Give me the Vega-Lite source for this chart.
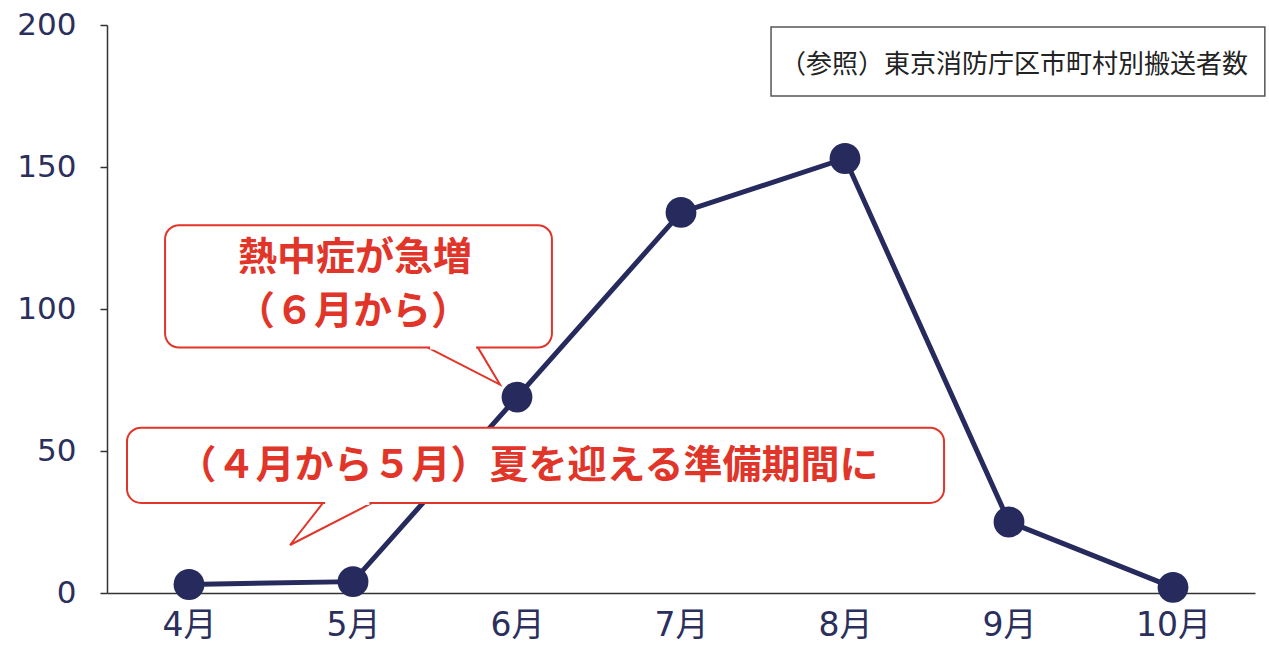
{
  "$schema": "https://vega.github.io/schema/vega-lite/v6.json",
  "width": 1148,
  "height": 568,
  "autosize": {"type": "none"},
  "padding": {"left": 107, "top": 25, "right": 14, "bottom": 53},
  "background": "#ffffff",
  "config": {"view": {"stroke": null}},
  "datasets": {
    "series": [
      {"month": 4, "value": 3},
      {"month": 5, "value": 4},
      {"month": 6, "value": 69},
      {"month": 7, "value": 134},
      {"month": 8, "value": 153},
      {"month": 9, "value": 25},
      {"month": 10, "value": 2}
    ],
    "boxes": [
      {"x1": 3.854, "x2": 6.213, "y1": 86.4, "y2": 129.5},
      {"x1": 3.622, "x2": 8.604, "y1": 31.7, "y2": 58.2}
    ],
    "pointers": [
      {"g": "a", "o": 1, "x": 5.457, "y": 86.4},
      {"g": "a", "o": 2, "x": 5.896, "y": 73.4},
      {"g": "a", "o": 3, "x": 5.762, "y": 86.4},
      {"g": "b", "o": 1, "x": 4.817, "y": 31.7},
      {"g": "b", "o": 2, "x": 4.616, "y": 16.9},
      {"g": "b", "o": 3, "x": 5.116, "y": 31.7}
    ],
    "gaps": [
      {"x1": 5.47, "x2": 5.75, "y": 86.4},
      {"x1": 4.83, "x2": 5.10, "y": 31.7}
    ],
    "notes": [
      {"x": 5.012, "y": 117.8, "text": "熱中症が急増"},
      {"x": 5.0, "y": 98.9, "text": "（６月から）"},
      {"x": 6.067, "y": 44.8, "text": "（４月から５月）夏を迎える準備期間に"}
    ],
    "refbox": [
      {"x1": 7.549, "x2": 10.56, "y1": 175, "y2": 199.3, "xt": 9.03, "yt": 185.9, "text": "（参照）東京消防庁区市町村別搬送者数"}
    ]
  },
  "encoding": {
    "x": {
      "field": "month",
      "type": "quantitative",
      "scale": {"domain": [3.5, 10.5], "nice": false, "zero": false},
      "axis": {
        "values": [4, 5, 6, 7, 8, 9, 10],
        "labelExpr": "datum.value + '月'",
        "title": null,
        "grid": false,
        "ticks": false,
        "domain": true,
        "domainColor": "#333333",
        "domainWidth": 1.5,
        "labelFont": "DejaVu Sans, Noto Sans CJK JP",
        "labelFontSize": 33,
        "labelColor": "#2b2f5c",
        "labelPadding": 16,
        "labelFlush": false
      }
    },
    "y": {
      "field": "value",
      "type": "quantitative",
      "scale": {"domain": [0, 200], "nice": false},
      "axis": {
        "values": [0, 50, 100, 150, 200],
        "title": null,
        "grid": false,
        "ticks": true,
        "tickSize": 7,
        "tickColor": "#333333",
        "tickWidth": 1.5,
        "domainColor": "#333333",
        "domainWidth": 1.5,
        "labelFont": "DejaVu Sans",
        "labelFontSize": 31,
        "labelColor": "#2b2f5c",
        "labelPadding": 24
      }
    }
  },
  "layer": [
    {
      "data": {"name": "series"},
      "mark": {"type": "line", "color": "#262a5c", "strokeWidth": 5}
    },
    {
      "data": {"name": "series"},
      "mark": {"type": "point", "filled": true, "color": "#262a5c", "size": 950, "opacity": 1}
    },
    {
      "data": {"name": "boxes"},
      "mark": {"type": "rect", "fill": "#ffffff", "stroke": "#e2352a", "strokeWidth": 2, "cornerRadius": 14},
      "encoding": {
        "x": {"field": "x1", "type": "quantitative"},
        "x2": {"field": "x2"},
        "y": {"field": "y1", "type": "quantitative"},
        "y2": {"field": "y2"}
      }
    },
    {
      "data": {"name": "pointers"},
      "mark": {"type": "line", "color": "#e2352a", "strokeWidth": 2},
      "encoding": {
        "x": {"field": "x", "type": "quantitative"},
        "y": {"field": "y", "type": "quantitative"},
        "detail": {"field": "g"},
        "order": {"field": "o"}
      }
    },
    {
      "data": {"name": "gaps"},
      "mark": {"type": "rule", "color": "#ffffff", "strokeWidth": 4},
      "encoding": {
        "x": {"field": "x1", "type": "quantitative"},
        "x2": {"field": "x2"},
        "y": {"field": "y", "type": "quantitative"}
      }
    },
    {
      "data": {"name": "notes"},
      "mark": {"type": "text", "color": "#e2352a", "font": "Noto Sans CJK JP", "fontWeight": "bold", "fontSize": 39, "align": "center", "baseline": "middle"},
      "encoding": {
        "x": {"field": "x", "type": "quantitative"},
        "y": {"field": "y", "type": "quantitative"},
        "text": {"field": "text"}
      }
    },
    {
      "data": {"name": "refbox"},
      "mark": {"type": "rect", "fill": "#ffffff", "stroke": "#555555", "strokeWidth": 1.5, "clip": false},
      "encoding": {
        "x": {"field": "x1", "type": "quantitative"},
        "x2": {"field": "x2"},
        "y": {"field": "y1", "type": "quantitative"},
        "y2": {"field": "y2"}
      }
    },
    {
      "data": {"name": "refbox"},
      "mark": {"type": "text", "color": "#222222", "font": "Noto Sans CJK JP", "fontSize": 26, "align": "center", "baseline": "middle"},
      "encoding": {
        "x": {"field": "xt", "type": "quantitative"},
        "y": {"field": "yt", "type": "quantitative"},
        "text": {"field": "text"}
      }
    }
  ]
}
